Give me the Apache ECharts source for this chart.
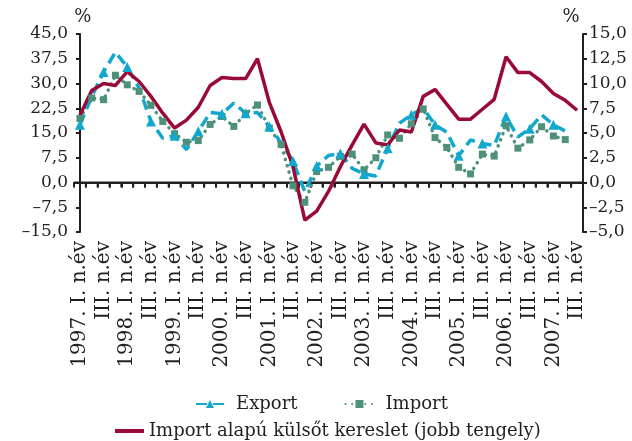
<!DOCTYPE html>
<html>
<head>
<meta charset="utf-8">
<script src="https://cdn.jsdelivr.net/npm/echarts@6/dist/echarts.min.js"></script>
<style>
  html, body { margin: 0; padding: 0; background: #fff; }
  #chart { width: 632px; height: 441px; }
</style>
</head>
<body>
<div id="chart"></div>
<script>
const years = [1997, 1998, 1999, 2000, 2001, 2002, 2003, 2004, 2005, 2006, 2007];
const quarters = ['I', 'II', 'III', 'IV'];

// 1997 I. n.év ... 2007 III. n.év
let categories = [];
years.forEach(y => quarters.forEach(q => categories.push(y + '. ' + q + '. n.év')));
categories = categories.slice(0, 43);

// left axis, %
const exportData = [
  17.5, 26.0, 33.5, 39.5, 35.0, 28.6, 18.5, 13.4, 14.2, 10.0,
  15.5, 21.2, 20.8, 24.1, 21.0, 21.2, 17.0, 12.0, 6.5, -2.8,
  5.0, 8.2, 8.8, 4.3, 2.6, 2.0, 10.4, 18.0, 20.5, 22.5,
  17.5, 15.2, 8.1, 12.9, 11.8, 11.2, 20.0, 13.8, 16.3, 20.5,
  17.5, 15.6
];
const importData = [
  19.4, 25.6, 25.1, 32.5, 29.6, 27.6, 23.4, 18.5, 14.8, 12.2,
  12.7, 17.6, 20.0, 17.0, 20.9, 23.5, 16.5, 11.5, -1.0, -6.0,
  3.3, 4.6, 7.9, 8.6, 3.8, 7.5, 14.4, 13.4, 17.8, 22.3,
  13.6, 10.6, 4.6, 2.6, 8.6, 8.0, 17.2, 10.4, 12.9, 16.9,
  14.1, 13.0
];
// right axis, %
const demandData = [
  6.8, 9.3, 10.0, 9.8, 11.2, 10.2, 8.7, 7.0, 5.5, 6.3,
  7.6, 9.8, 10.6, 10.5, 10.5, 12.5, 8.1, 5.1, 1.6, -3.8,
  -2.9, -0.9, 1.6, 3.8, 5.9, 4.0, 3.8, 5.3, 5.1, 8.7,
  9.4, 7.9, 6.4, 6.4, 7.4, 8.4, 12.7, 11.1, 11.1, 10.2,
  9.0, 8.3, 7.3
];

const leftTicks = { min: -15, max: 45, interval: 7.5 };
const rightTicks = { min: -5, max: 15, interval: 2.5 };

const seriesNames = ['Export', 'Import', 'Import alapú külsőt kereslet (jobb tengely)'];

const ink = '#231F20';
const font = 'DejaVu Serif';

function fmt(v) {
  let s = Math.abs(v).toFixed(1).replace('.', ',');
  return v < 0 ? '\u2013' + s : s;
}

// zero line and the tick under each quarter boundary, drawn as filled bars
function renderZeroAxis(params, api) {
  const p = api.coord([api.value(0), 0]);
  const band = api.size([1, 0])[0];
  return {
    type: 'group',
    children: [
      { type: 'rect', shape: { x: p[0] - band / 2, y: p[1] - 1, width: band, height: 2 }, style: { fill: ink } },
      { type: 'rect', shape: { x: p[0] + band / 2 - 1, y: p[1], width: 2, height: 5 }, style: { fill: ink } }
    ]
  };
}

const yAxisBase = {
  type: 'value',
  axisLine: { show: true, lineStyle: { color: ink, width: 2 } },
  axisTick: { show: true, length: 4, lineStyle: { color: ink, width: 2 } },
  splitLine: { show: false },
  axisLabel: { color: ink, fontFamily: font, fontSize: 17, margin: 6, formatter: fmt },
  name: '%',
  nameLocation: 'end',
  nameGap: 8,
};

const option = {
  animation: false,
  backgroundColor: '#fff',
  grid: { left: 74, right: 49, top: 34, bottom: 209 },
  legend: [
    {
      data: [seriesNames[0], seriesNames[1]],
      left: 190,
      top: 390,
      itemWidth: 28,
      itemHeight: 10,
      itemGap: 47,
      textStyle: { color: ink, fontFamily: font, fontSize: 18, padding: [0, 0, 0, 7] }
    },
    {
      data: [{ name: seriesNames[2], icon: 'rect' }],
      left: 110,
      top: 417,
      itemWidth: 29,
      itemHeight: 4,
      textStyle: { color: ink, fontFamily: font, fontSize: 18 }
    }
  ],
  xAxis: [
    {
      // quarter labels under the plot
      type: 'category',
      data: categories,
      position: 'bottom',
      boundaryGap: true,
      axisLine: { show: false, onZero: false },
      axisTick: { show: false },
      splitLine: { show: false },
      axisLabel: {
        interval: 1,
        rotate: 90,
        margin: 9,
        color: ink,
        fontFamily: font,
        fontSize: 20,
        formatter: function (v) {
          return v.indexOf('. I. ') > 0 ? v : v.slice(6);
        }
      }
    },
    {
      // zero line, one tick per quarter boundary
      type: 'value',
      min: -0.5,
      max: categories.length - 0.5,
      interval: 1,
      position: 'bottom',
      axisLine: { show: true, onZero: true, onZeroAxisIndex: 0, lineStyle: { color: ink, width: 2 } },
      axisTick: { show: true, length: 5, lineStyle: { color: ink, width: 2 } },
      axisLabel: { show: false },
      splitLine: { show: false }
    }
  ],
  yAxis: [
    Object.assign({}, yAxisBase, leftTicks, {
      position: 'left',
      nameTextStyle: { color: ink, fontFamily: font, fontSize: 18, padding: [0, 0, 0, 6] }
    }),
    Object.assign({}, yAxisBase, rightTicks, {
      position: 'right',
      nameTextStyle: { color: ink, fontFamily: font, fontSize: 18, padding: [0, 24, 0, 0] }
    })
  ],
  series: [
    {
      type: 'custom',
      xAxisIndex: 0,
      yAxisIndex: 0,
      z: 1,
      silent: true,
      clip: false,
      renderItem: renderZeroAxis,
      data: categories.map((c, i) => [i, 0])
    },
    {
      name: seriesNames[1],
      type: 'line',
      data: importData,
      yAxisIndex: 0,
      symbol: 'rect',
      symbolSize: 7,
      color: '#4E917A',
      itemStyle: { color: '#4E917A' },
      lineStyle: { color: '#4E917A', width: 3.5, type: [0.1, 6.5], cap: 'round' }
    },
    {
      name: seriesNames[0],
      type: 'line',
      data: exportData,
      yAxisIndex: 0,
      symbol: 'triangle',
      symbolSize: 10,
      color: '#12A8CE',
      itemStyle: { color: '#12A8CE' },
      lineStyle: { color: '#12A8CE', width: 3.5, type: [11, 6] }
    },
    {
      name: seriesNames[2],
      type: 'line',
      data: demandData,
      yAxisIndex: 1,
      symbol: 'none',
      color: '#990A36',
      lineStyle: { color: '#990A36', width: 3.5 }
    }
  ]
};

const myChart = echarts.init(document.getElementById('chart'));
myChart.setOption(option);
</script>
</body>
</html>
